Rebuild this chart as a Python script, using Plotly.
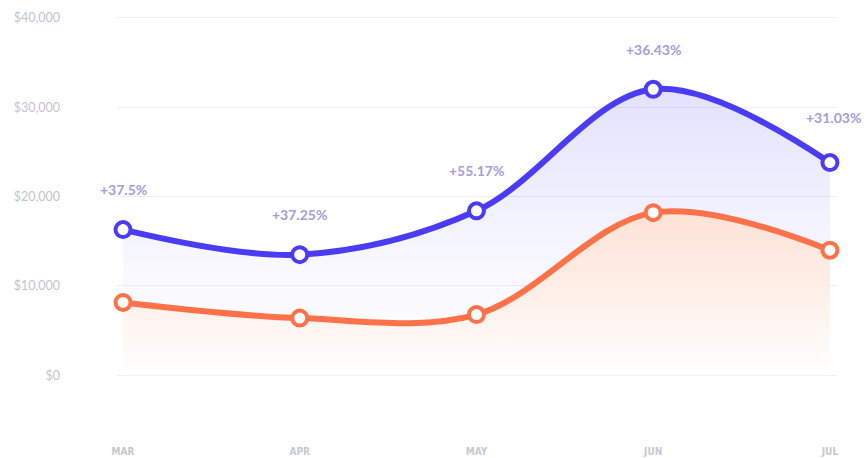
import plotly.graph_objects as go

months = ["MAR", "APR", "MAY", "JUN", "JUL"]
revenue = [16300, 13500, 18400, 32000, 23800]
costs = [8150, 6400, 6800, 18200, 14000]
growth = ["+37.5%", "+37.25%", "+55.17%", "+36.43%", "+31.03%"]
y_ticks = [0, 10000, 20000, 30000, 40000]
y_tick_labels = ["$0", "$10,000", "$20,000", "$30,000", "$40,000"]

xs = list(range(len(months)))
BLUE = "#4a3cf4"
ORANGE = "#ff7148"

fig = go.Figure()
fig.add_trace(go.Scatter(
    x=xs, y=revenue, mode="lines+markers",
    line=dict(color=BLUE, width=6, shape="spline", smoothing=1.0),
    marker=dict(size=15, color="white", line=dict(color=BLUE, width=4)),
    fill="tozeroy",
    fillgradient=dict(type="vertical", start=0, stop=33000,
                      colorscale=[[0, "rgba(110,100,245,0.0)"], [0.35, "rgba(110,100,245,0.04)"], [1, "rgba(110,100,245,0.2)"]]),
    cliponaxis=False, hoverinfo="skip",
))
fig.add_trace(go.Scatter(
    x=xs, y=costs, mode="lines+markers",
    line=dict(color=ORANGE, width=6, shape="spline", smoothing=1.0),
    marker=dict(size=15, color="white", line=dict(color=ORANGE, width=4)),
    fill="tozeroy",
    fillgradient=dict(type="vertical", start=0, stop=19000,
                      colorscale=[[0, "rgba(255,255,255,0.95)"], [0.5, "rgba(254,238,230,0.95)"], [1, "rgba(253,226,213,1)"]]),
    cliponaxis=False, hoverinfo="skip",
))

for i, (x, y, t) in enumerate(zip(xs, revenue, growth)):
    fig.add_annotation(x=x, y=y, text="<b>%s</b>" % t, showarrow=False,
                       yshift=40 if i < len(xs) - 1 else 45, xshift=4 if i == len(xs) - 1 else 0,
                       font=dict(family="Lato, Open Sans, sans-serif", size=14, color="#a49ddf"))

fig.update_layout(
    width=866, height=458,
    margin=dict(l=117, r=29, t=16, b=80),
    paper_bgcolor="white", plot_bgcolor="white",
    showlegend=False,
    xaxis=dict(range=[-0.034, 4.04], tickvals=xs, ticktext=months, showgrid=False,
               zeroline=False, showline=False, ticks="", ticklabelstandoff=66,
               automargin=False,
               tickfont=dict(family="DejaVu Sans Condensed, Roboto, sans-serif", size=10,
                             color="#c4c8d5", weight="bold")),
    yaxis=dict(range=[-300, 40200], tickvals=y_ticks, ticktext=y_tick_labels,
               showgrid=True, gridcolor="#ededf3", gridwidth=1, zeroline=False,
               showline=False, ticks="", ticklabelstandoff=56, automargin=False,
               tickfont=dict(family="Lato, Open Sans, sans-serif", size=12.5, color="#c4c4cd")),
)

fig.write_html("out.html")
